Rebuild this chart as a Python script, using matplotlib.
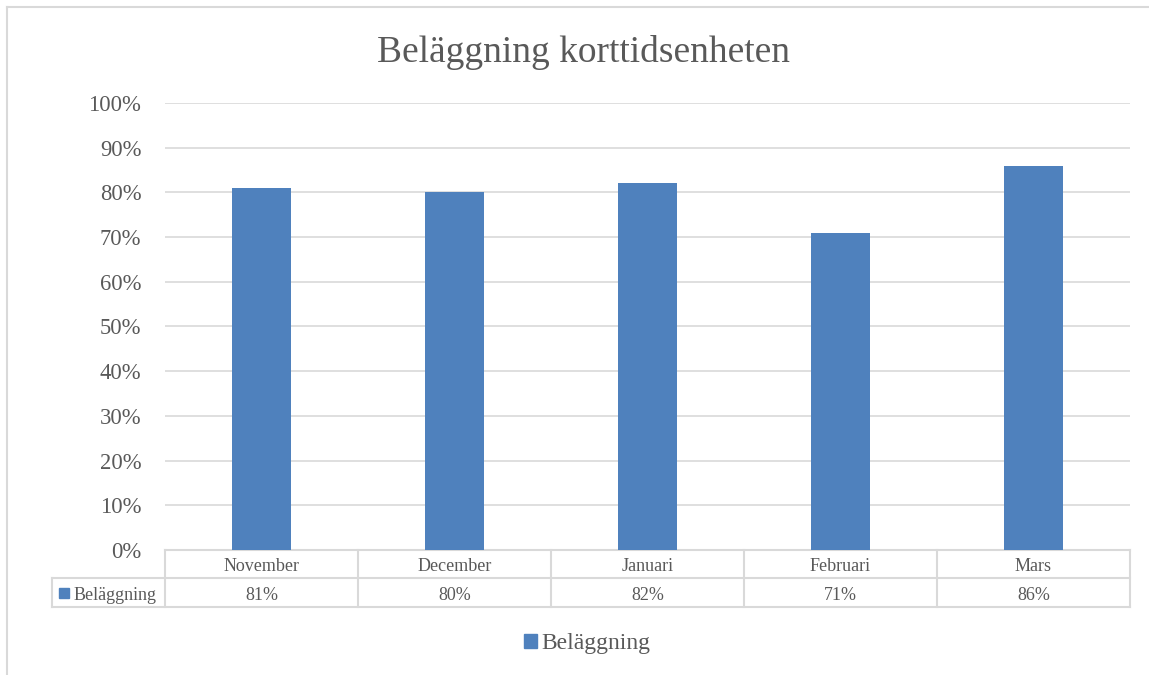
import matplotlib
matplotlib.use('Agg')
import matplotlib.pyplot as plt
import matplotlib.transforms as mtransforms
from matplotlib.patches import Patch
import numpy as np

# data
months = ['November', 'December', 'Januari', 'Februari', 'Mars']
occupancy = [81, 80, 82, 71, 86]
series_name = 'Beläggning'
title = 'Beläggning korttidsenheten'
yticks = np.arange(0, 101, 10)

bar_color = '#4F81BD'
text_color = '#595959'
line_color = '#D9D9D9'

plt.rcParams['font.family'] = ['Liberation Serif', 'DejaVu Serif']

W, H = 1149, 675
fig = plt.figure(figsize=(W / 100, H / 100), dpi=100)

# chart border (only left/top visible in the frame)
fig.add_artist(plt.Line2D([7 / W, 7 / W], [0, 1 - 7 / H], color=line_color, lw=1.5))
fig.add_artist(plt.Line2D([7 / W, 1], [1 - 7 / H, 1 - 7 / H], color=line_color, lw=1.5))

left, right, top, bottom = 165, 1130, 103, 550
ax = fig.add_axes([left / W, 1 - bottom / H, (right - left) / W, (bottom - top) / H])

x = np.arange(len(months))
ax.bar(x, occupancy, width=0.31, color=bar_color, zorder=3)
ax.set_xlim(-0.5, len(months) - 0.5)
ax.set_ylim(0, 100)
ax.set_yticks(yticks)
ax.set_yticklabels(['%d%%' % v for v in yticks])
ax.yaxis.grid(True, color=line_color, lw=1.2, zorder=0)
ax.set_xticks([])
for s in ax.spines.values():
    s.set_visible(False)
ax.tick_params(axis='y', length=0, pad=17, labelsize=16.3, labelcolor=text_color)

fig.text(583 / W, 1 - 52 / H, title, ha='center', va='center', fontsize=27, color=text_color)

# data table under the axis
trans = mtransforms.blended_transform_factory(ax.transData, ax.transAxes)
ah = bottom - top
r1 = -28 / ah
r2 = -57 / ah
dy = -2.5 / ah
x_lab = (52 - left) / ((right - left) / len(months)) - 0.5
kw = dict(transform=trans, clip_on=False, color=line_color, lw=1.5)
xl, xr = -0.5, len(months) - 0.5
ax.plot([xl, xr], [0, 0], **kw)
ax.plot([x_lab, xr], [r1, r1], **kw)
ax.plot([x_lab, xr], [r2, r2], **kw)
ax.plot([x_lab, x_lab], [r1, r2], **kw)
for b in np.arange(len(months) + 1) - 0.5:
    ax.plot([b, b], [0, r2], **kw)
for i, m in enumerate(months):
    ax.text(i, r1 / 2 + dy, m, transform=trans, ha='center', va='center',
            fontsize=13, color=text_color, clip_on=False)
    ax.text(i, (r1 + r2) / 2 + dy, '%d%%' % occupancy[i], transform=trans, ha='center',
            va='center', fontsize=13, color=text_color, clip_on=False)
ax.plot([x_lab + 0.06], [(r1 + r2) / 2], marker='s', ms=6.5, color=bar_color,
        transform=trans, clip_on=False, ls='none')
ax.text(x_lab + 0.11, (r1 + r2) / 2 + dy, series_name, transform=trans, ha='left',
        va='center', fontsize=13, color=text_color, clip_on=False)

# legend
fig.legend(handles=[Patch(color=bar_color, label=series_name)], loc='center',
           bbox_to_anchor=(587 / W, 1 - 644 / H), frameon=False, fontsize=17,
           handlelength=0.55, handleheight=0.55, handletextpad=0.2, labelcolor=text_color)

fig.savefig('out.png', dpi=100)
